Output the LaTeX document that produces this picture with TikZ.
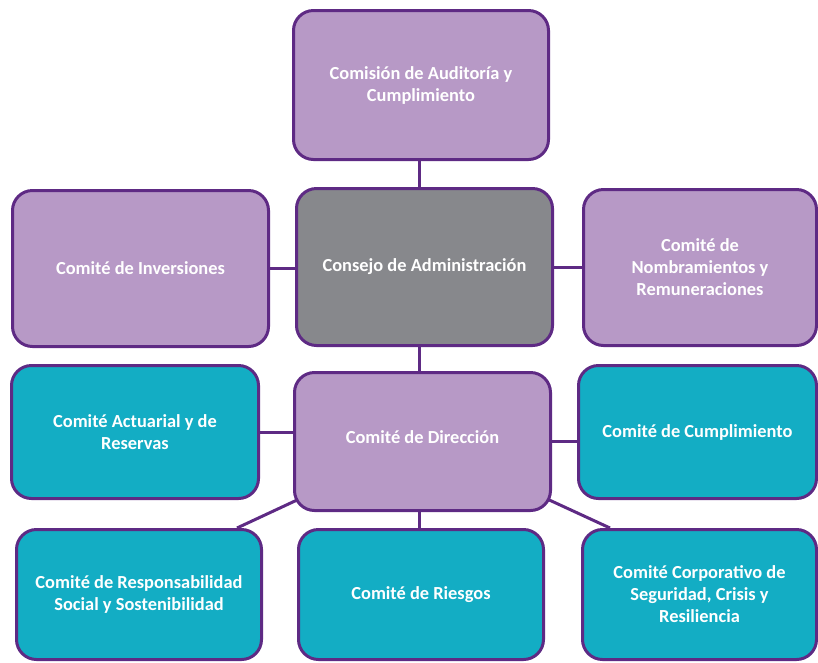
\documentclass[tikz,border=0pt]{standalone}
\usepackage{fontspec}
\setmainfont{Carlito}
\usetikzlibrary{calc,backgrounds}
\definecolor{lilac}{HTML}{B799C6}
\definecolor{plum}{HTML}{5E2A84}
\definecolor{slategrey}{HTML}{87888C}
\definecolor{tealbox}{HTML}{13ADC4}
\begin{document}
\begin{tikzpicture}[x=0.75pt,y=-0.75pt,
  box/.style={draw=plum, line width=2.25pt, rounded corners=15pt, text=white,
    font=\bfseries\fontsize{13.8}{16.5}\selectfont, align=center, inner sep=4pt},
  sz/.style 2 args={minimum width=#1*0.75pt, minimum height=#2*0.75pt},
  pbox/.style={box, fill=lilac},
  gbox/.style={box, fill=slategrey},
  tbox/.style={box, fill=tealbox},
  link/.style={draw=plum, line width=2.25pt}]
\useasboundingbox (0,0) rectangle (818,662);
% first row
\node[pbox, sz={255}{149}] (aud) at (421,85) {Comisión de Auditoría y\\Cumplimiento};
% second row
\node[gbox, sz={256}{157}] (cons) at (424.5,267) {Consejo de Administración};
\node[pbox, sz={256}{156}] (inv) at (140.5,268.5) {Comité de Inversiones};
\node[pbox, sz={233}{156}] (nom) at (700,267.5) {Comité de\\Nombramientos y\\Remuneraciones};
% third row
\node[pbox, sz={256}{138}] (dir) at (422.5,441.5) {\raisebox{3pt}[\height][\depth]{Comité de Dirección}};
\node[tbox, sz={247}{133}] (act) at (135,432) {Comité Actuarial y de\\Reservas};
\node[tbox, sz={238}{133}] (cum) at (697.5,432) {Comité de Cumplimiento};
% fourth row
\node[tbox, sz={245}{130}] (rss) at (139,594.5) {Comité de Responsabilidad\\Social y Sostenibilidad};
\node[tbox, sz={245}{130}] (rie) at (421,594.5) {Comité de Riesgos};
\node[tbox, sz={234}{130}] (seg) at (699.5,594.5) {Comité Corporativo de\\Seguridad, Crisis y\\Resiliencia};
% connectors
\begin{scope}[on background layer]
\draw[link] ([xshift=-1.5pt]aud.south) -- ([xshift=-1.5pt]aud.south |- cons.north);
\draw[link] (inv.east) -- (inv.east -| cons.west);
\draw[link] (cons.east) -- (cons.east -| nom.west);
\draw[link] ([xshift=-1.5pt]aud.south |- cons.south) -- ([xshift=-1.5pt]aud.south |- dir.north);
\draw[link] (act.east) -- (act.east -| dir.west);
\draw[link] (dir.east) -- (dir.east -| cum.west);
\draw[link] ([xshift=-1.5pt]aud.south |- dir.south) -- ([xshift=-1.5pt]aud.south |- rie.north);
\draw[link] (dir.center) -- ($(rss.north east)+(-26,0)$);
\draw[link] (dir.center) -- ($(seg.north west)+(29,0)$);
\end{scope}
\end{tikzpicture}
\end{document}
